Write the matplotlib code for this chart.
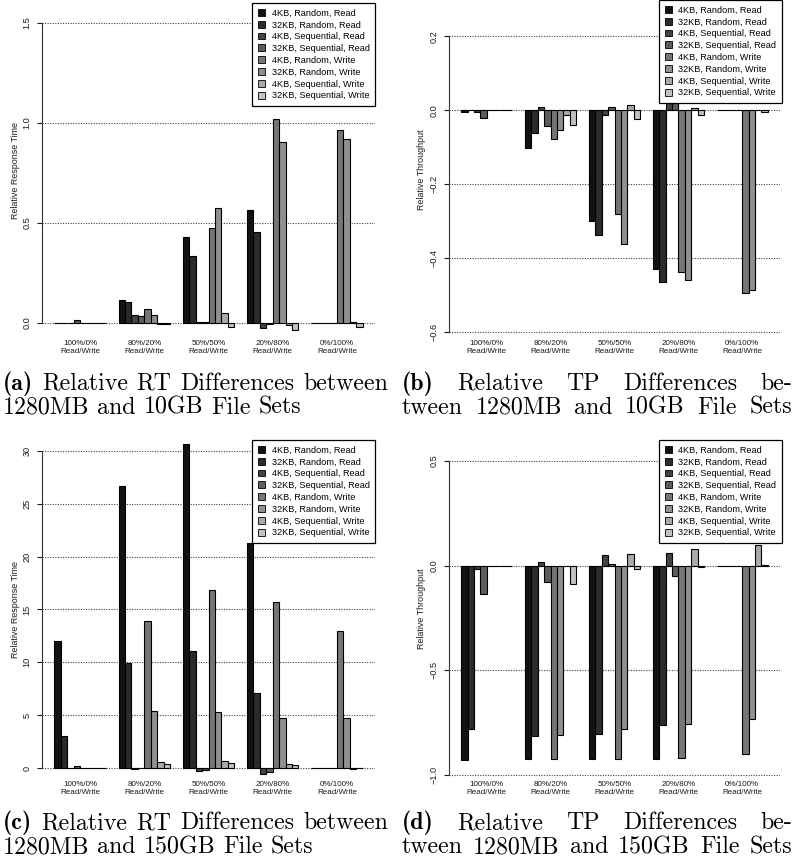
import matplotlib
matplotlib.use("Agg")
import matplotlib.pyplot as plt
from matplotlib.patches import Patch
import numpy as np

# ---------------- data ----------------
series = ["4KB, Random, Read", "32KB, Random, Read", "4KB, Sequential, Read",
          "32KB, Sequential, Read", "4KB, Random, Write", "32KB, Random, Write",
          "4KB, Sequential, Write", "32KB, Sequential, Write"]
groups = ["100%/0%\nRead/Write", "80%/20%\nRead/Write", "50%/50%\nRead/Write",
          "20%/80%\nRead/Write", "0%/100%\nRead/Write"]

# rows: groups, columns: series
rt_10gb = [
    [-0.002, -0.002, 0.0, 0.017, -0.002, -0.002, -0.002, -0.002],
    [0.117, 0.106, 0.038, 0.033, 0.068, 0.041, -0.003, -0.005],
    [0.430, 0.335, 0.003, 0.005, 0.477, 0.577, 0.052, -0.018],
    [0.563, 0.453, -0.024, -0.004, 1.022, 0.905, -0.010, -0.035],
    [-0.002, -0.002, -0.002, -0.002, 0.967, 0.922, 0.003, -0.020],
]
tp_10gb = [
    [-0.005, 0.0, -0.004, -0.022, 0.0, 0.0, 0.0, 0.0],
    [-0.102, -0.060, 0.008, -0.043, -0.078, -0.053, -0.0135, -0.041],
    [-0.299, -0.336, -0.014, 0.008, -0.279, -0.360, 0.013, -0.023],
    [-0.429, -0.464, 0.020, 0.020, -0.437, -0.459, 0.007, -0.014],
    [0.0, 0.0, 0.0, 0.0, -0.493, -0.487, 0.0, -0.005],
]
rt_150gb = [
    [12.0, 3.03, 0.0, 0.15, 0.0, 0.0, 0.0, 0.0],
    [26.7, 9.9, -0.13, 0.0, 13.9, 5.43, 0.60, 0.38],
    [30.7, 11.04, -0.32, -0.22, 16.85, 5.33, 0.66, 0.47],
    [21.3, 7.13, -0.60, -0.41, 15.68, 4.70, 0.41, 0.25],
    [0.0, 0.0, 0.0, 0.0, 13.0, 4.76, -0.05, 0.0],
]
tp_150gb = [
    [-0.928, -0.780, -0.0175, -0.135, 0.0, 0.0, 0.0, 0.0],
    [-0.924, -0.814, 0.0175, -0.076, -0.924, -0.810, 0.0, -0.088],
    [-0.924, -0.804, 0.049, 0.008, -0.924, -0.782, 0.057, -0.0175],
    [-0.924, -0.760, 0.060, -0.049, -0.917, -0.758, 0.081, -0.006],
    [0.0, 0.0, 0.0, 0.0, -0.900, -0.734, 0.099, 0.005],
]

rt_ticks_a = [0.0, 0.5, 1.0, 1.5]
rt_ticklabels_a = ["0.0", "0.5", "1.0", "1.5"]
tp_ticks_b = [-0.6, -0.4, -0.2, 0.0, 0.2]
tp_ticklabels_b = ["\u22120.6", "\u22120.4", "\u22120.2", "0.0", "0.2"]
rt_ticks_c = [0, 5, 10, 15, 20, 25, 30]
rt_ticklabels_c = ["0", "5", "10", "15", "20", "25", "30"]
tp_ticks_d = [-1.0, -0.5, 0.0, 0.5]
tp_ticklabels_d = ["\u22121.0", "\u22120.5", "0.0", "0.5"]

colors = [str(v) for v in np.linspace(0.07, 0.76, 8)]

W, H = 794, 868
fig = plt.figure(figsize=(W / 100, H / 100), dpi=100)
SANS = "Liberation Sans"


def fx(px):
    return px / W


def fy(py):
    return 1 - py / H


def make_panel(data, xl, xr, top, bottom, ylim, ticks, ticklabels, ylabel,
               legend_anchor):
    ax = fig.add_axes([fx(xl), fy(bottom), fx(xr - xl), (bottom - top) / H])
    data = np.array(data)
    ng, ns = data.shape
    for j in range(ns):
        lefts = 2 + np.arange(ng) * (ns + 2) + j
        ax.bar(lefts, data[:, j], width=1.0, align="edge", color=colors[j],
               edgecolor="black", linewidth=0.8, zorder=3)
    span = ng * (ns + 2) - 2
    ext = 0.04 * span
    ax.set_xlim(2 - ext, 2 + span + ext)
    ax.set_ylim(*ylim)
    for t in ticks:
        ax.axhline(t, color="#444444", linestyle=(0, (1, 1.3)), linewidth=0.8,
                   zorder=1)
    centers = 2 + np.arange(ng) * (ns + 2) + ns / 2
    ax.set_xticks(centers)
    ax.set_xticklabels(groups, fontsize=5.8, family=SANS, linespacing=1.2,
                       color="#1a1a1a")
    ax.tick_params(axis="x", length=0, pad=2.0)
    ax.set_yticks(ticks)
    ax.set_yticklabels(ticklabels, fontsize=6.6, family=SANS, rotation=90,
                       va="center", color="#1a1a1a")
    ax.tick_params(axis="y", length=3.5, width=0.8, pad=4.0, colors="#1a1a1a")
    for s in ["top", "right", "bottom"]:
        ax.spines[s].set_visible(False)
    ax.spines["left"].set_bounds(min(ticks), max(ticks))
    ax.spines["left"].set_linewidth(0.8)
    ax.spines["left"].set_color("#333333")
    ax.set_ylabel(ylabel, fontsize=6.4, family=SANS, color="#1a1a1a")
    axw = xr - xl
    ax.yaxis.set_label_coords((legend_anchor[2] - xl) / axw, 0.5)
    handles = [Patch(facecolor=c, edgecolor="black", linewidth=0.6) for c in colors]
    leg = fig.legend(handles, series, loc="upper right",
                     bbox_to_anchor=(fx(legend_anchor[0]), fy(legend_anchor[1])),
                     bbox_transform=fig.transFigure, borderaxespad=0,
                     prop={"family": SANS, "size": 6.6}, frameon=True,
                     fancybox=False, framealpha=1, edgecolor="black",
                     handlelength=0.75, handleheight=0.75, handletextpad=0.75,
                     labelspacing=0.31, borderpad=0.6)
    leg.get_frame().set_linewidth(0.9)
    return ax


make_panel(rt_10gb, 42, 375, 3, 337, (-0.07, 1.6), rt_ticks_a, rt_ticklabels_a,
           "Relative Response Time", (375, 3, 20))
make_panel(tp_10gb, 449, 780, 3, 337, (-(337 - 110.3) / 370, (110.3 - 3) / 370),
           tp_ticks_b, tp_ticklabels_b, "Relative Throughput", (782, 0, 426))
make_panel(rt_150gb, 42, 375, 440, 778, (-(778 - 768) / 10.57, (768 - 440) / 10.57),
           rt_ticks_c, rt_ticklabels_c, "Relative Response Time", (375, 440, 20))
make_panel(tp_150gb, 449, 780, 440, 778, (-(778 - 565.7) / 209.3, (565.7 - 440) / 209.3),
           tp_ticks_d, tp_ticklabels_d, "Relative Throughput", (782, 440, 426))

# ---------------- captions ----------------
CAP_SIZE = 17.2
renderer = fig.canvas.get_renderer()


def word_width(word, bold):
    t = fig.text(0, 0, word, family="cmb10" if bold else "cmr10", fontsize=CAP_SIZE)
    w = t.get_window_extent(renderer=renderer).width
    t.remove()
    return w


def caption_line(words, x0, x1, baseline, justify):
    bolds = [i == 0 and w.startswith("(") for i, w in enumerate(words)]
    widths = [word_width(w, b) for w, b in zip(words, bolds)]
    space = word_width("a a", False) - 2 * word_width("a", False)
    if justify and len(words) > 1:
        gap = max(space * 0.8, (x1 - x0 - sum(widths)) / (len(words) - 1))
    else:
        gap = space
    x = x0
    for w, b, wd in zip(words, bolds, widths):
        fig.text(fx(x), fy(baseline), w, family="cmb10" if b else "cmr10",
                 fontsize=CAP_SIZE, va="baseline", ha="left", color="black")
        x += wd + gap


caption_line(["(a)", "Relative", "RT", "Differences", "between"], 3, 388, 390, True)
caption_line(["1280MB", "and", "10GB", "File", "Sets"], 3, 388, 414, False)
caption_line(["(b)", "Relative", "TP", "Differences", "be-"], 402, 792, 390, True)
caption_line(["tween", "1280MB", "and", "10GB", "File", "Sets"], 402, 792, 414, True)
caption_line(["(c)", "Relative", "RT", "Differences", "between"], 3, 388, 829, True)
caption_line(["1280MB", "and", "150GB", "File", "Sets"], 3, 388, 853, False)
caption_line(["(d)", "Relative", "TP", "Differences", "be-"], 402, 792, 829, True)
caption_line(["tween", "1280MB", "and", "150GB", "File", "Sets"], 402, 792, 853, True)

fig.savefig("out.png", dpi=100)
